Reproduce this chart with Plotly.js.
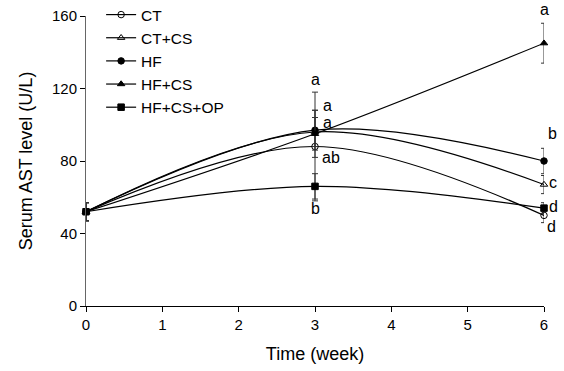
<!DOCTYPE html>
<html><head><meta charset="utf-8">
<script src="https://cdn.plot.ly/plotly-3.0.1.min.js"></script>
<style>html,body{margin:0;padding:0;background:#fff}#c{width:564px;height:371px}</style>
</head><body><div id="c"></div>
<script>
const weeks = [0, 3, 6];
const seriesNames = ["CT", "CT+CS", "HF", "HF+CS", "HF+CS+OP"];
const ctVals = [52, 88, 50];
const ctErr = [5, 30, 4];
const ctcsVals = [52, 96, 67];
const ctcsErr = [5, 8, 5];
const hfVals = [52, 97, 80];
const hfErr = [5, 11, 7];
const hfcsVals = [52, 95, 145];
const hfcsErr = [5, 13, 11];
const opVals = [52, 66, 54];
const opErr = [5, 7, 3];
const sigX = [3, 3, 3, 3, 3, 6, 6, 6, 6, 6];
const sigLetters = ["a", "a", "a", "ab", "b", "a", "b", "c", "d", "d"];

const values = [ctVals, ctcsVals, hfVals, hfcsVals, opVals];
const errs = [ctErr, ctcsErr, hfErr, hfcsErr, opErr];
const symbols = ["circle-open", "triangle-up-open", "circle", "triangle-up", "square"];

const traces = values.map((v, i) => ({
  x: weeks, y: v, name: seriesNames[i], type: "scatter", mode: "lines+markers",
  line: {shape: "spline", smoothing: 1, color: "#000", width: 1.2},
  marker: {symbol: symbols[i], size: 6.5, color: "#000", line: {color: "#000", width: 1}},
  error_y: {type: "data", array: errs[i], visible: true, color: "#333", thickness: 1, width: 3},
  cliponaxis: false
}));

const sigY = [125, 110.5, 101, 82, 54, 160, 95, 68, 55, 44];
const sigDy = [0, 0, 0, 0, 0, 7, 0, 0, 0, 0];
const sigDx = [0, 12, 12, 16, 0, 0, 8, 9, 9, 7];
const annotations = sigLetters.map((t, i) => ({
  x: sigX[i], y: sigY[i], text: t, showarrow: false, xshift: sigDx[i], yshift: sigDy[i],
  font: {family: "Liberation Sans, Arial", size: 16, color: "#000"}
}));

const layout = {
  width: 564, height: 371,
  margin: {l: 86, r: 20, t: 16, b: 65, autoexpand: false},
  paper_bgcolor: "#fff", plot_bgcolor: "#fff",
  font: {family: "Liberation Sans, Arial", size: 15, color: "#000"},
  showlegend: true,
  legend: {x: 0.033, y: 1.062, xanchor: "left", yanchor: "top", bgcolor: "rgba(0,0,0,0)",
           font: {size: 15.5}, tracegroupgap: 0, itemwidth: 30},
  xaxis: {range: [0, 6], tickvals: [0,1,2,3,4,5,6], showgrid: false, zeroline: false,
          showline: true, linecolor: "#000", linewidth: 1, ticks: "outside", ticklen: 5,
          tickcolor: "#000", title: {text: "Time (week)", font: {size: 18}, standoff: 15}},
  yaxis: {range: [0, 160], tickvals: [0,40,80,120,160], showgrid: false, zeroline: false,
          showline: true, linecolor: "#666", linewidth: 1, ticks: "outside", ticklen: 5,
          tickcolor: "#000", title: {text: "Serum AST level (U/L)", font: {size: 18}, standoff: 14}},
  annotations: annotations
};
Plotly.newPlot("c", traces, layout, {displayModeBar: false, staticPlot: true});
</script></body></html>
